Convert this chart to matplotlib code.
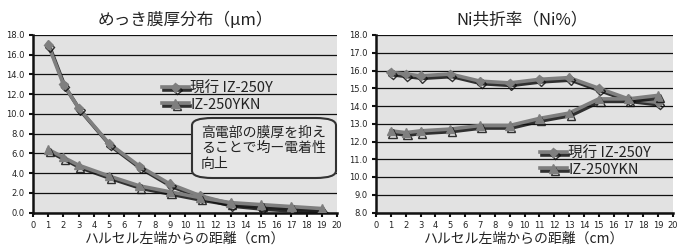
import matplotlib
matplotlib.use("Agg")
import matplotlib.pyplot as plt
import matplotlib.patheffects as pe
from matplotlib.patches import FancyBboxPatch
from matplotlib import font_manager

plt.rcParams['font.family'] = ['Noto Sans CJK JP', 'DejaVu Sans']

x_pos = [1, 2, 3, 5, 7, 9, 11, 13, 15, 17, 19]
series_names = ['現行 IZ-250Y', 'IZ-250YKN']

thick_current = [17.0, 13.0, 10.6, 7.0, 4.7, 2.9, 1.7, 0.9, 0.6, 0.4, 0.2]
thick_new = [6.4, 5.6, 4.8, 3.7, 2.7, 2.1, 1.5, 1.0, 0.8, 0.6, 0.4]

ni_current = [15.9, 15.8, 15.7, 15.8, 15.4, 15.3, 15.5, 15.6, 15.0, 14.4, 14.2]
ni_new = [12.6, 12.5, 12.6, 12.7, 12.9, 12.9, 13.3, 13.6, 14.4, 14.4, 14.6]

x_ticks = list(range(0, 21))
left_yticks = [0, 2, 4, 6, 8, 10, 12, 14, 16, 18]
right_yticks = [8, 9, 10, 11, 12, 13, 14, 15, 16, 17, 18]

left_title = 'めっき膜厚分布（μm）'
right_title = 'Ni共折率（Ni%）'
xlabel = 'ハルセル左端からの距離（cm）'
note = '高電部の膜厚を抑え\nることで均ー電着性\n向上'

names = {f.name for f in font_manager.fontManager.ttflist}
tick_family = 'Liberation Sans Narrow' if 'Liberation Sans Narrow' in names else 'DejaVu Sans'

W, H = 680, 246
fig = plt.figure(figsize=(W / 100, H / 100), dpi=100)

bg = '#e2e2e2'
line_col = '#7f7f7f'
shadow = [pe.SimpleLineShadow(offset=(1.2, -1.8), shadow_color='#111111', alpha=0.85), pe.Normal()]


def make_ax(left_px, right_px, yticks, ymin, ymax):
    top_px, bot_px = 35, 212.5
    ax = fig.add_axes([left_px / W, 1 - bot_px / H, (right_px - left_px) / W, (bot_px - top_px) / H])
    ax.set_facecolor(bg)
    ax.set_xlim(0, 20)
    ax.set_ylim(ymin, ymax)
    ax.set_xticks(x_ticks)
    ax.set_xticklabels([str(v) for v in x_ticks], fontsize=6, family=tick_family)
    ax.set_yticks(yticks)
    ax.set_yticklabels([f'{v:.1f}' for v in yticks], fontsize=6, family=tick_family)
    ax.tick_params(axis='both', length=3, width=1.5, color='#111111', pad=3, labelcolor='#222222')
    for s in ['top', 'right']:
        ax.spines[s].set_visible(False)
    for s in ['left', 'bottom']:
        ax.spines[s].set_linewidth(1.8)
        ax.spines[s].set_color('#111111')
    ax.grid(axis='y', color='#111111', linewidth=0.9)
    ax.set_axisbelow(True)
    ax.set_xlabel(xlabel, fontsize=10, labelpad=1, color='#222222')
    return ax


axL = make_ax(33, 337, left_yticks, 0, 18)
axR = make_ax(376, 673, right_yticks, 8, 18)

for ax, a, b in [(axL, thick_current, thick_new), (axR, ni_current, ni_new)]:
    ax.plot(x_pos, a, color=line_col, lw=2.6, marker='D', ms=4.5, mfc=line_col, mec=line_col,
            path_effects=shadow, label=series_names[0], zorder=3)
    ax.plot(x_pos, b, color=line_col, lw=2.6, marker='^', ms=6, mfc=line_col, mec=line_col,
            path_effects=shadow, label=series_names[1], zorder=3)

fig.text(185 / W, 1 - 20 / H, left_title, ha='center', va='center', fontsize=12, color='#222222')
fig.text(522 / W, 1 - 20 / H, right_title, ha='center', va='center', fontsize=12, color='#222222')

legL = axL.legend(loc='upper left', bbox_to_anchor=((155 - 33) / 304, 1 - (74 - 35) / 177.5),
                  frameon=False, fontsize=10.5, handlelength=1.8, handletextpad=0.1,
                  labelspacing=0.15, borderpad=0)
legR = axR.legend(loc='upper left', bbox_to_anchor=((533 - 376) / 297, 1 - (139 - 35) / 177.5),
                  frameon=False, fontsize=10.5, handlelength=1.8, handletextpad=0.1,
                  labelspacing=0.15, borderpad=0)
for leg in (legL, legR):
    for t in leg.get_texts():
        t.set_color('#222222')

box = FancyBboxPatch((192 / W, 1 - 178 / H), (336 - 192) / W, (178 - 118) / H,
                     boxstyle='round,pad=0,rounding_size=0.03', transform=fig.transFigure,
                     facecolor='#e6e6e6', edgecolor='#333333', linewidth=1.5, zorder=5)
fig.patches.append(box)
fig.text(201 / W, 1 - 148 / H, note, ha='left', va='center', fontsize=10, color='#222222',
         linespacing=1.15, zorder=6)

fig.savefig('out.png', dpi=100)
